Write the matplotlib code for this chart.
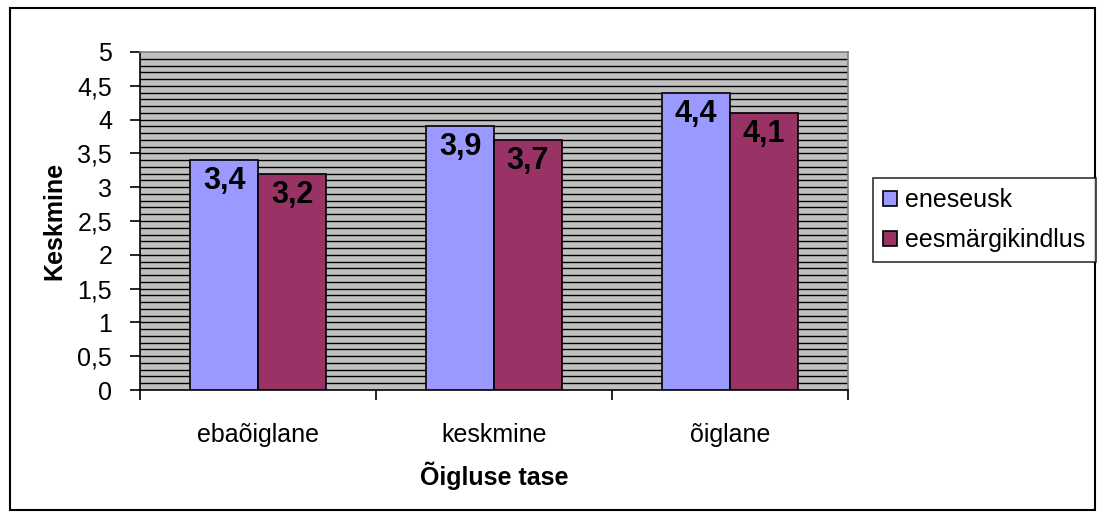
import numpy as np
import matplotlib.pyplot as plt
from matplotlib.patches import Rectangle

categories = ['ebaõiglane', 'keskmine', 'õiglane']
eneseusk = [3.4, 3.9, 4.4]
eesmargikindlus = [3.2, 3.7, 4.1]
series_names = ['eneseusk', 'eesmärgikindlus']
colors = ['#9999FF', '#993366']

plt.rcParams['font.family'] = ['Liberation Sans', 'DejaVu Sans']

fig = plt.figure(figsize=(10.98, 5.14), dpi=100)
ax = fig.add_axes([140 / 1098, 1 - 390 / 514, 708 / 1098, 338 / 514])

# excel-ish grey background with horizontal line pattern
ax.set_facecolor('#C0C0C0')
for y in np.arange(0.1, 5.0, 0.1):
    ax.axhline(y, color='black', lw=1.0, zorder=1)

x = np.arange(len(categories))
w = 0.288
b1 = ax.bar(x - w / 2, eneseusk, w, color=colors[0], edgecolor='black', lw=1.2, zorder=3, label=series_names[0])
b2 = ax.bar(x + w / 2, eesmargikindlus, w, color=colors[1], edgecolor='black', lw=1.2, zorder=3, label=series_names[1])

for bars, vals in ((b1, eneseusk), (b2, eesmargikindlus)):
    for r, v in zip(bars, vals):
        ax.text(r.get_x() + r.get_width() / 2, v - 0.31, f'{v:.1f}'.replace('.', ','),
                ha='center', va='center', fontsize=22, fontweight='bold', zorder=4)

ax.set_xlim(-0.5, 2.5)
ax.set_ylim(0, 5)
yt = np.arange(0, 5.01, 0.5)
ax.set_yticks(yt)
ax.set_yticklabels([f'{t:g}'.replace('.', ',') for t in yt], fontsize=18)
ax.set_xticks(x)
ax.set_xticklabels(categories, fontsize=18)
ax.tick_params(axis='x', length=0, pad=24)
ax.set_xticks([-0.5, 0.5, 1.5, 2.5], minor=True)
ax.tick_params(axis='x', which='minor', length=7, width=1.2, color='black')
ax.tick_params(axis='y', length=7, width=1.2, color='black', pad=13)

for s in ['top', 'right']:
    ax.spines[s].set_color('#808080')
    ax.spines[s].set_linewidth(1.2)
for s in ['left', 'bottom']:
    ax.spines[s].set_color('black')
    ax.spines[s].set_linewidth(1.2)

ax.set_ylabel('Keskmine', fontsize=18, fontweight='bold', labelpad=8)
ax.set_xlabel('Õigluse tase', fontsize=18, fontweight='bold', labelpad=10)

leg = fig.legend(loc='upper left', bbox_to_anchor=(873 / 1098, 1 - 178 / 514), fontsize=18,
                 frameon=True, fancybox=False, edgecolor='black', handlelength=0.55, handleheight=0.55,
                 handletextpad=0.35, borderpad=0.4, labelspacing=0.65, borderaxespad=0)
leg.get_frame().set_linewidth(1.2)

# border around the whole chart
fig.patches.append(Rectangle((10 / 1098, 4 / 514), 1085 / 1098, 502 / 514, transform=fig.transFigure,
                             fill=False, edgecolor='black', lw=1.5))

fig.savefig('out.png', dpi=100)
